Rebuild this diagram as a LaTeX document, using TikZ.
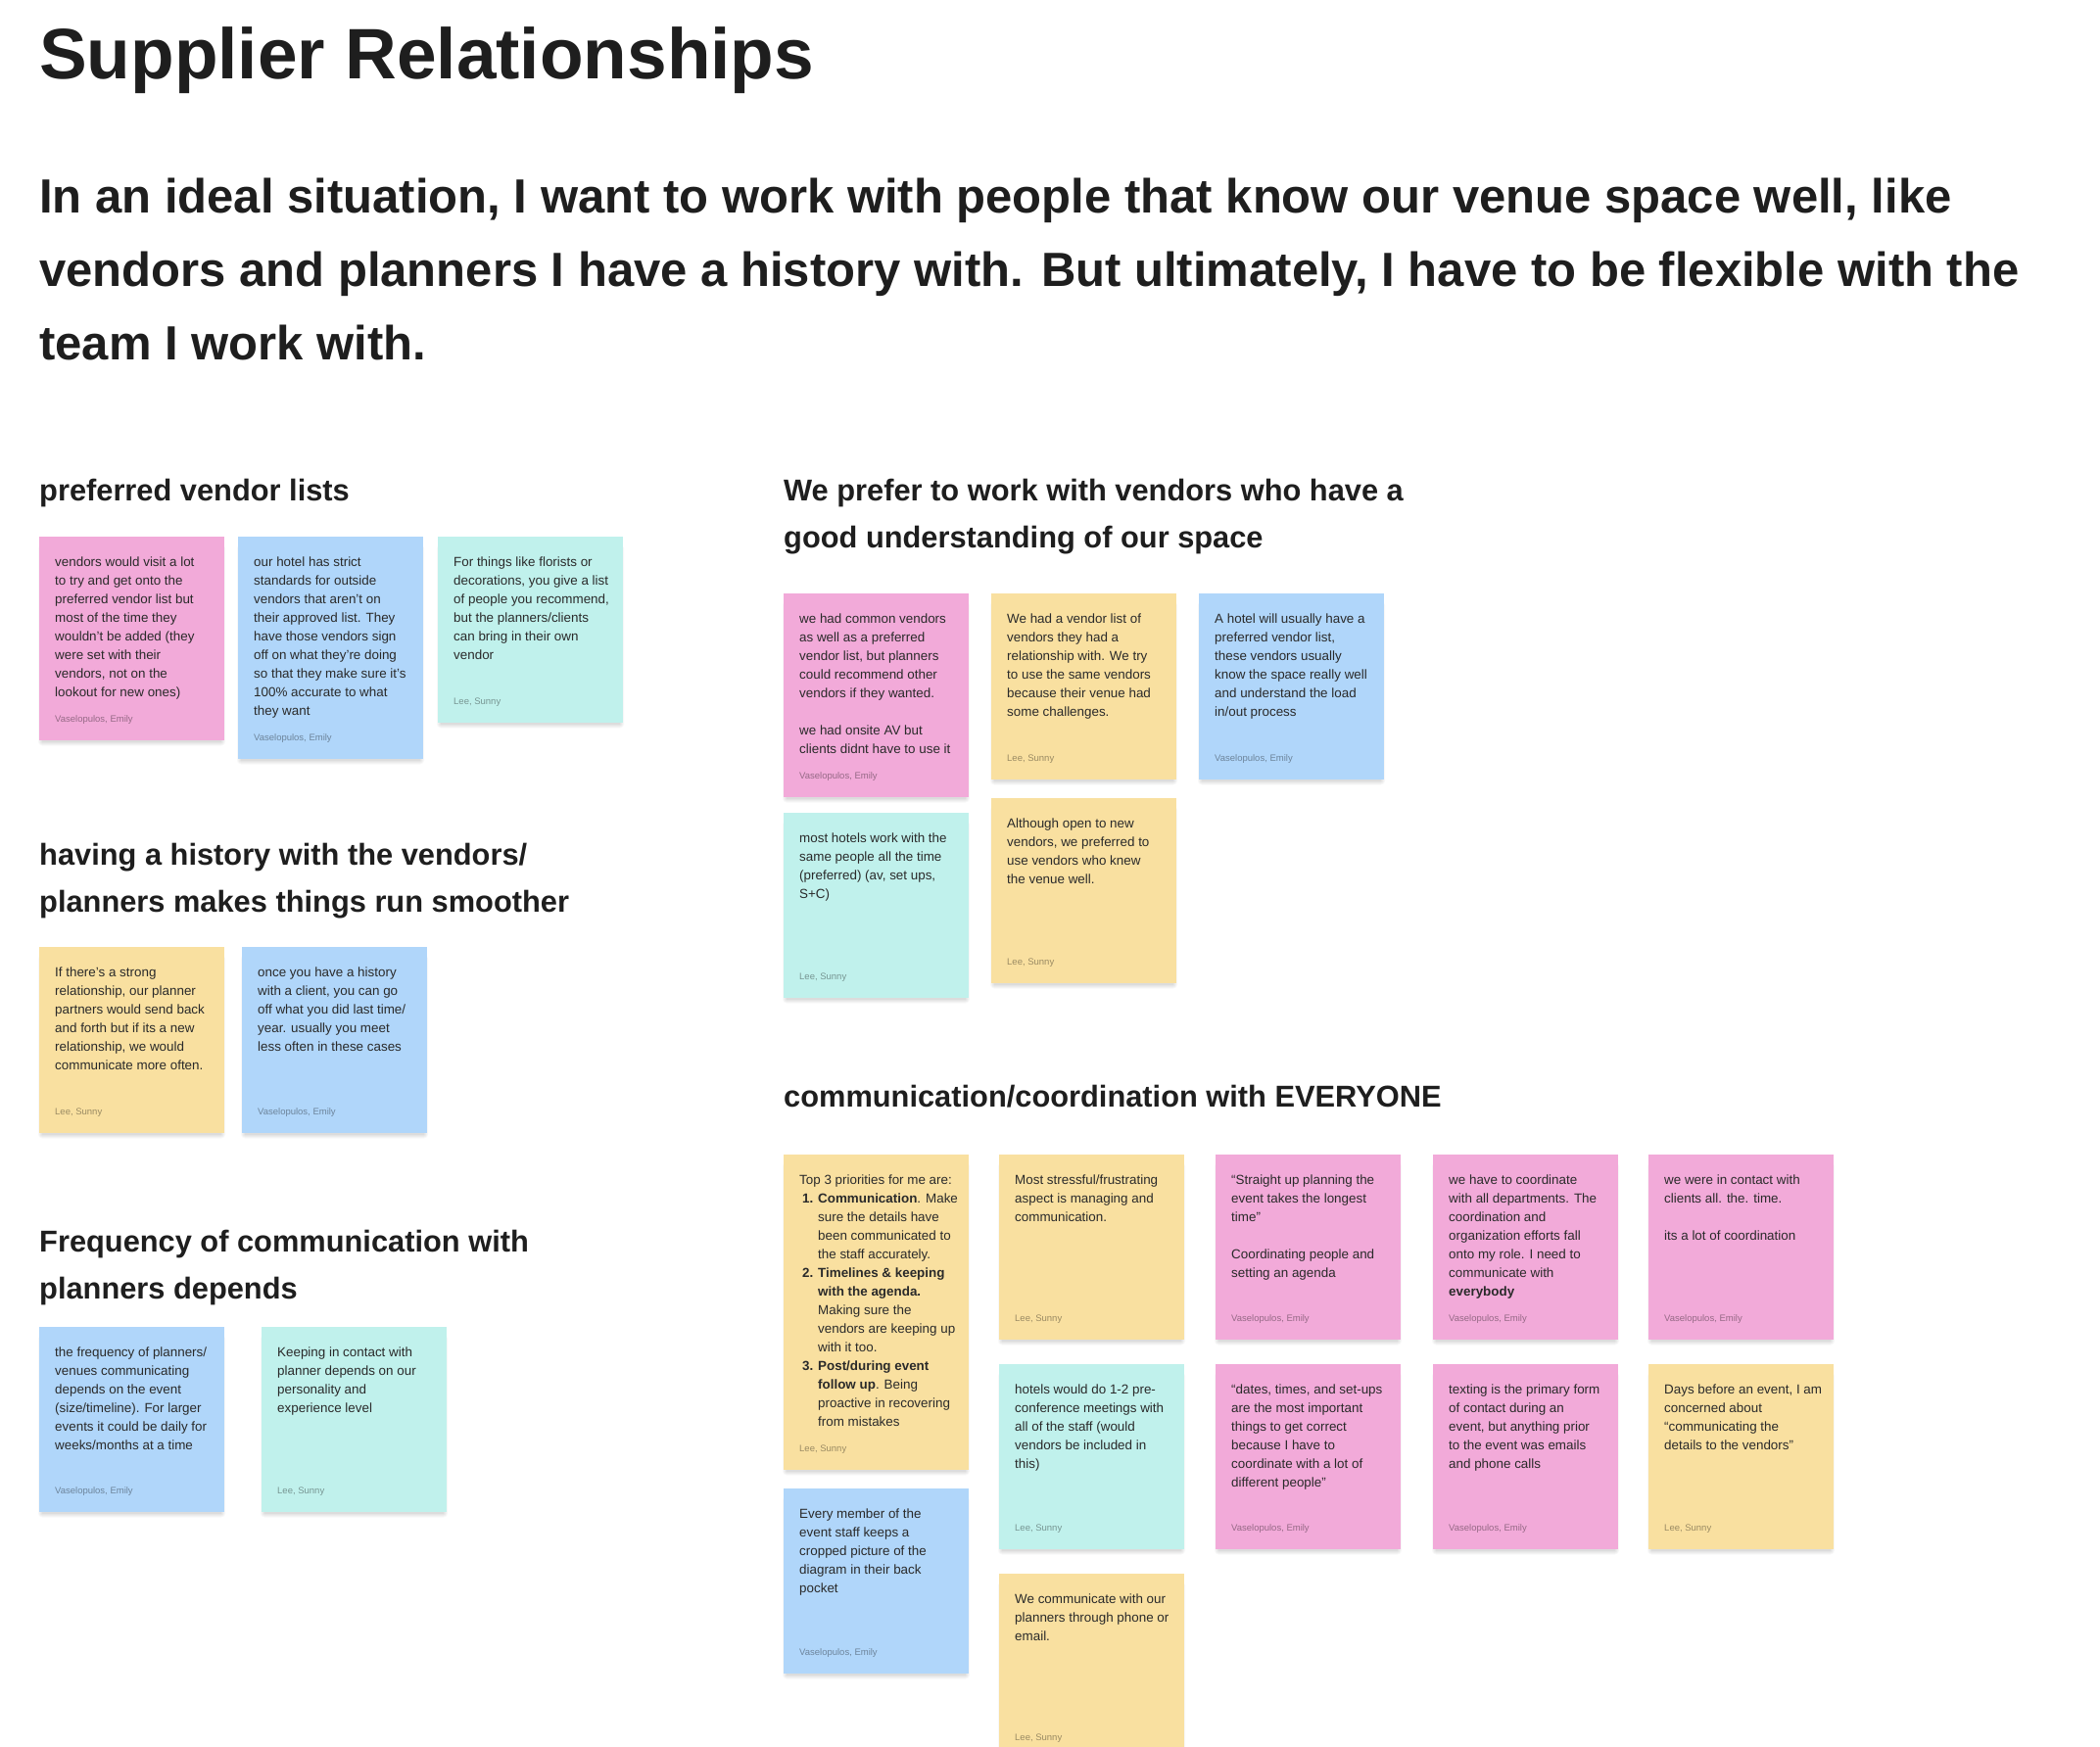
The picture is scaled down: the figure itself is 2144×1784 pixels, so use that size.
\documentclass[tikz,border=0pt]{standalone}
\usepackage{fontspec}
\setmainfont{Liberation Sans}
\definecolor{stpink}{HTML}{F2AAD9}
\definecolor{styellow}{HTML}{F9E0A0}
\definecolor{stblue}{HTML}{B0D6FA}
\definecolor{stteal}{HTML}{C0F1EC}
\definecolor{ink}{HTML}{1E1E1E}
\definecolor{stink}{HTML}{2A2A2A}
\newcommand\stl[1]{\hbox{#1}}
\newcommand\stk[7]{%
  \foreach \k in {0,1,2,3,4}{%
    \fill[black, opacity=0.028, rounded corners=\k pt] ({#2+3-\k},{#3+8}) rectangle ({#2+186+\k},{#3+#4+1.5+\k});}
  \node[stickybox, fill=#5, minimum height=#4pt] (#1) at (#2,#3) {};
  \node[stickytext] (#1-t) at ([xshift=16pt,yshift=-30pt]#1.north west) {\vtop{\baselineskip=19pt #6}};
  \node[stickyauthor] (#1-a) at ([xshift=16pt,yshift=19pt]#1.south west) {#7};
}
\tikzset{
  stickybox/.style={anchor=north west, minimum width=189pt, inner sep=0pt, draw=none},
  stickytext/.style={anchor=base west, inner sep=0pt, text=stink, font=\fontsize{13.4}{19}\selectfont},
  stickyauthor/.style={anchor=base west, inner sep=0pt, text=black, text opacity=0.38, font=\fontsize{9.5}{11}\selectfont},
  titletext/.style={anchor=base west, inner sep=0pt, text=ink, font=\fontsize{73}{80}\selectfont\bfseries},
  subtext/.style={anchor=base west, inner sep=0pt, text=ink, font=\fontsize{49}{75}\selectfont\bfseries},
  headtext/.style={anchor=base west, inner sep=0pt, text=ink, font=\fontsize{30.8}{48}\selectfont\bfseries},
}
\begin{document}
\begin{tikzpicture}[x=1pt,y=-1pt]
\fill[white] (0,0) rectangle (2144,1784);
\useasboundingbox (0,0) rectangle (2144,1784);

\node[titletext] (title) at (40,81) {Supplier Relationships};
\node[subtext] (sub) at (40,218) {\vtop{\baselineskip=75pt
  \stl{In an ideal situation, I want to work with people that know our venue space well, like}
  \stl{vendors and planners I have a history with. But ultimately, I have to be flexible with the}
  \stl{team I work with.}}};

% headings
\node[headtext] (h1) at (40,511) {preferred vendor lists};
\node[headtext] (h2) at (800,511) {\vtop{\baselineskip=48pt
  \stl{We prefer to work with vendors who have a}\stl{good understanding of our space}}};
\node[headtext] (h3) at (40,883) {\vtop{\baselineskip=48pt
  \stl{having a history with the vendors/}\stl{planners makes things run smoother}}};
\node[headtext] (h4) at (40,1278) {\vtop{\baselineskip=48pt
  \stl{Frequency of communication with}\stl{planners depends}}};
\node[headtext] (h5) at (800,1130) {communication/coordination with EVERYONE};

% section 1
\stk{s1a}{40}{548}{208}{stpink}{\stl{vendors would visit a lot}\stl{to try and get onto the}\stl{preferred vendor list but}\stl{most of the time they}\stl{wouldn't be added (they}\stl{were set with their}\stl{vendors, not on the}\stl{lookout for new ones)}}{Vaselopulos, Emily}
\stk{s1b}{243}{548}{227}{stblue}{\stl{our hotel has strict}\stl{standards for outside}\stl{vendors that aren’t on}\stl{their approved list. They}\stl{have those vendors sign}\stl{off on what they’re doing}\stl{so that they make sure it’s}\stl{100\% accurate to what}\stl{they want}}{Vaselopulos, Emily}
\stk{s1c}{447}{548}{190}{stteal}{\stl{For things like florists or}\stl{decorations, you give a list}\stl{of people you recommend,}\stl{but the planners/clients}\stl{can bring in their own}\stl{vendor}}{Lee, Sunny}

% section 2
\stk{s2a}{800}{606}{208}{stpink}{\stl{we had common vendors}\stl{as well as a preferred}\stl{vendor list, but planners}\stl{could recommend other}\stl{vendors if they wanted.}\stl{}\stl{we had onsite AV but}\stl{clients didnt have to use it}}{Vaselopulos, Emily}
\stk{s2b}{1012}{606}{190}{styellow}{\stl{We had a vendor list of}\stl{vendors they had a}\stl{relationship with. We try}\stl{to use the same vendors}\stl{because their venue had}\stl{some challenges.}}{Lee, Sunny}
\stk{s2c}{1224}{606}{190}{stblue}{\stl{A hotel will usually have a}\stl{preferred vendor list,}\stl{these vendors usually}\stl{know the space really well}\stl{and understand the load}\stl{in/out process}}{Vaselopulos, Emily}
\stk{s2d}{800}{830}{189}{stteal}{\stl{most hotels work with the}\stl{same people all the time}\stl{(preferred) (av, set ups,}\stl{S+C)}}{Lee, Sunny}
\stk{s2e}{1012}{815}{189}{styellow}{\stl{Although open to new}\stl{vendors, we preferred to}\stl{use vendors who knew}\stl{the venue well.}}{Lee, Sunny}

% section 3
\stk{s3a}{40}{967}{190}{styellow}{\stl{If there’s a strong}\stl{relationship, our planner}\stl{partners would send back}\stl{and forth but if its a new}\stl{relationship, we would}\stl{communicate more often.}}{Lee, Sunny}
\stk{s3b}{247}{967}{190}{stblue}{\stl{once you have a history}\stl{with a client, you can go}\stl{off what you did last time/}\stl{year. usually you meet}\stl{less often in these cases}}{Vaselopulos, Emily}

% section 4
\stk{s4a}{40}{1355}{189}{stblue}{\stl{the frequency of planners/}\stl{venues communicating}\stl{depends on the event}\stl{(size/timeline). For larger}\stl{events it could be daily for}\stl{weeks/months at a time}}{Vaselopulos, Emily}
\stk{s4b}{267}{1355}{189}{stteal}{\stl{Keeping in contact with}\stl{planner depends on our}\stl{personality and}\stl{experience level}}{Lee, Sunny}

% section 5
\stk{s5a}{800}{1179}{322}{styellow}{\stl{Top 3 priorities for me are:}%
\stl{\hskip3pt\makebox[16pt][l]{\textbf{1.}}\textbf{Communication}. Make}%
\stl{\hskip19pt sure the details have}%
\stl{\hskip19pt been communicated to}%
\stl{\hskip19pt the staff accurately.}%
\stl{\hskip3pt\makebox[16pt][l]{\textbf{2.}}\textbf{Timelines \& keeping}}%
\stl{\hskip19pt\textbf{with the agenda.}}%
\stl{\hskip19pt Making sure the}%
\stl{\hskip19pt vendors are keeping up}%
\stl{\hskip19pt with it too.}%
\stl{\hskip3pt\makebox[16pt][l]{\textbf{3.}}\textbf{Post/during event}}%
\stl{\hskip19pt\textbf{follow up}. Being}%
\stl{\hskip19pt proactive in recovering}%
\stl{\hskip19pt from mistakes}}{Lee, Sunny}
\stk{s5b}{1020}{1179}{189}{styellow}{\stl{Most stressful/frustrating}\stl{aspect is managing and}\stl{communication.}}{Lee, Sunny}
\stk{s5c}{1241}{1179}{189}{stpink}{\stl{“Straight up planning the}\stl{event takes the longest}\stl{time”}\stl{}\stl{Coordinating people and}\stl{setting an agenda}}{Vaselopulos, Emily}
\stk{s5d}{1463}{1179}{189}{stpink}{\stl{we have to coordinate}\stl{with all departments. The}\stl{coordination and}\stl{organization efforts fall}\stl{onto my role. I need to}\stl{communicate with}\stl{\textbf{everybody}}}{Vaselopulos, Emily}
\stk{s5e}{1683}{1179}{189}{stpink}{\stl{we were in contact with}\stl{clients all. the. time.}\stl{}\stl{its a lot of coordination}}{Vaselopulos, Emily}
\stk{s5f}{800}{1520}{189}{stblue}{\stl{Every member of the}\stl{event staff keeps a}\stl{cropped picture of the}\stl{diagram in their back}\stl{pocket}}{Vaselopulos, Emily}
\stk{s5g}{1020}{1393}{189}{stteal}{\stl{hotels would do 1-2 pre-}\stl{conference meetings with}\stl{all of the staff (would}\stl{vendors be included in}\stl{this)}}{Lee, Sunny}
\stk{s5h}{1241}{1393}{189}{stpink}{\stl{“dates, times, and set-ups}\stl{are the most important}\stl{things to get correct}\stl{because I have to}\stl{coordinate with a lot of}\stl{different people”}}{Vaselopulos, Emily}
\stk{s5i}{1463}{1393}{189}{stpink}{\stl{texting is the primary form}\stl{of contact during an}\stl{event, but anything prior}\stl{to the event was emails}\stl{and phone calls}}{Vaselopulos, Emily}
\stk{s5j}{1683}{1393}{189}{styellow}{\stl{Days before an event, I am}\stl{concerned about}\stl{“communicating the}\stl{details to the vendors”}}{Lee, Sunny}
\stk{s5k}{1020}{1607}{189}{styellow}{\stl{We communicate with our}\stl{planners through phone or}\stl{email.}}{Lee, Sunny}
\end{tikzpicture}
\end{document}
